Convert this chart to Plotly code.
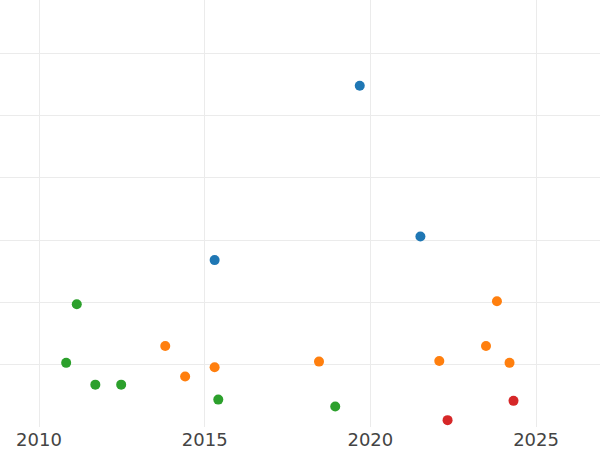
import plotly.graph_objects as go

# values (y is unitless, grid step = 10)
series_names = ["A", "B", "C", "D"]
series_colors = ["#1f77b4", "#ff7f0e", "#2ca02c", "#d62728"]

a_years = [2019.68, 2021.51, 2015.30]
a_values = [54.8, 30.6, 26.8]

b_years = [2013.81, 2014.41, 2015.30, 2018.45, 2022.08, 2023.49, 2023.82, 2024.20]
b_values = [13.0, 8.1, 9.6, 10.5, 10.6, 13.0, 20.2, 10.3]

c_years = [2011.14, 2010.82, 2011.70, 2012.48, 2015.41, 2018.94]
c_values = [19.7, 10.3, 6.8, 6.8, 4.4, 3.3]

d_years = [2022.33, 2024.32]
d_values = [1.1, 4.2]

x_ticks = [2010, 2015, 2020, 2025]


def build_figure():
    fig = go.Figure()
    all_x = [a_years, b_years, c_years, d_years]
    all_y = [a_values, b_values, c_values, d_values]

    for name, color, xs, ys in zip(series_names, series_colors, all_x, all_y):
        fig.add_trace(
            go.Scatter(
                name=name,
                x=xs,
                y=ys,
                mode="markers",
                marker=dict(color=color, size=10, line=dict(width=0)),
            )
        )

    fig.update_layout(
        width=600,
        height=450,
        margin=dict(l=0, r=0, t=0, b=23),
        paper_bgcolor="white",
        plot_bgcolor="white",
        showlegend=False,
        font=dict(family="DejaVu Sans", size=18, color="#444444"),
    )
    fig.update_xaxes(
        range=[2008.823, 2026.93],
        tickvals=x_ticks,
        ticktext=[str(t) for t in x_ticks],
        showgrid=True,
        gridcolor="#ebebeb",
        gridwidth=1.3,
        zeroline=False,
        showline=False,
        ticks="",
    )
    fig.update_yaxes(
        range=[0, 68.57],
        dtick=10,
        showgrid=True,
        gridcolor="#ebebeb",
        gridwidth=1.3,
        zeroline=False,
        showline=False,
        showticklabels=False,
        ticks="",
    )
    return fig


fig = build_figure()
# page body has a default 8px margin; drop it so the chart fills the window
fig.write_html(
    "out.html",
    config={"displayModeBar": False},
    post_script="document.body.style.margin = '0';",
)
